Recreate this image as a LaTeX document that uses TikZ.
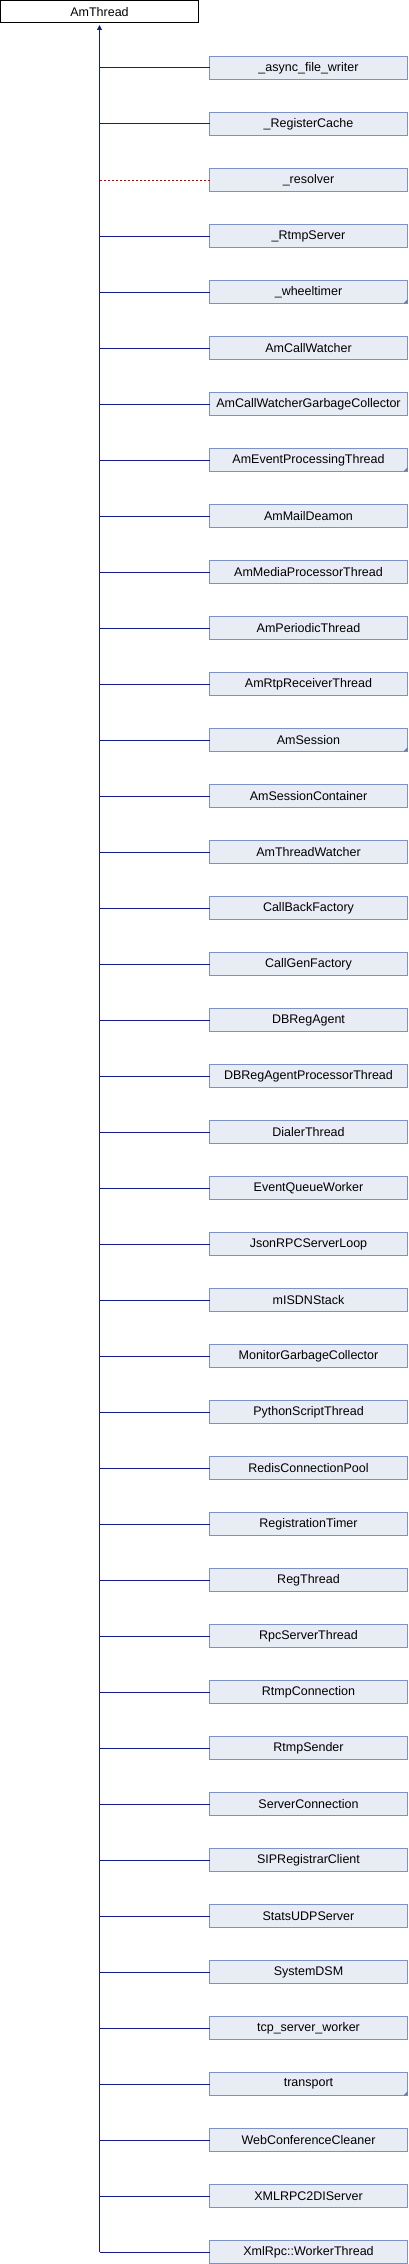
\documentclass[tikz,border=0pt]{standalone}
\usepackage{fontspec}
\setmainfont{Liberation Sans}
\usetikzlibrary{arrows.meta}

\definecolor{edgeblue}{RGB}{20,28,140}
\definecolor{boxline}{RGB}{124,146,200}
\definecolor{boxfill}{RGB}{232,236,245}
\definecolor{privred}{RGB}{160,16,16}

\tikzset{
  classbox/.style={draw=boxline, fill=boxfill, line width=1pt, outer sep=0pt, inner sep=0pt,
    minimum width=198pt, minimum height=22.5pt, font=\fontsize{12.5}{14}\selectfont},
  basebox/.style={classbox, draw=black, fill=white},
  inherit/.style={draw=edgeblue, line width=1pt},
  privinherit/.style={draw=privred, line width=1pt, dash pattern=on 2pt off 2pt},
  cutmark/.style={fill=boxline!85!black}
}

\begin{document}
\begin{tikzpicture}[x=1pt,y=-1pt]

\def\dy{56}; \def\ytop{68};
\useasboundingbox (0,0) rectangle (408,2264);

\node[basebox] (base) at (99.5,11.75) {AmThread};

\foreach \name [count=\i] in {\_async\_file\_writer, \_RegisterCache, \_resolver, \_RtmpServer,
  \_wheeltimer, AmCallWatcher, AmCallWatcherGarbageCollector, AmEventProcessingThread,
  AmMailDeamon, AmMediaProcessorThread, AmPeriodicThread, AmRtpReceiverThread, AmSession,
  AmSessionContainer, AmThreadWatcher, CallBackFactory, CallGenFactory, DBRegAgent,
  DBRegAgentProcessorThread, DialerThread, EventQueueWorker, JsonRPCServerLoop, mISDNStack,
  MonitorGarbageCollector, PythonScriptThread, RedisConnectionPool, RegistrationTimer,
  RegThread, RpcServerThread, RtmpConnection, RtmpSender, ServerConnection,
  SIPRegistrarClient, StatsUDPServer, SystemDSM, tcp\_server\_worker, transport,
  WebConferenceCleaner, XMLRPC2DIServer, XmlRpc::WorkerThread}{
\node[classbox] (c\i) at (308.5,\ytop+\dy*\i-\dy) {\name};
\ifnum\i=3 \def\estyle{privinherit}\else\def\estyle{inherit}\fi
\draw[\estyle] (c\i.west) -- (c\i.west -| base.south);
}

% truncated subclasses
\foreach \i in {5,8,13,37}{
\fill[cutmark] (c\i.south east) -- ++(-4,0) -- ++(4,-4) -- cycle;
}

\coordinate (trunkend) at (base.south |- c40.west);
\draw[inherit, shorten >=2pt, -{Triangle[length=5pt,width=5pt]}] (trunkend) -- (base);

\end{tikzpicture}
\end{document}
